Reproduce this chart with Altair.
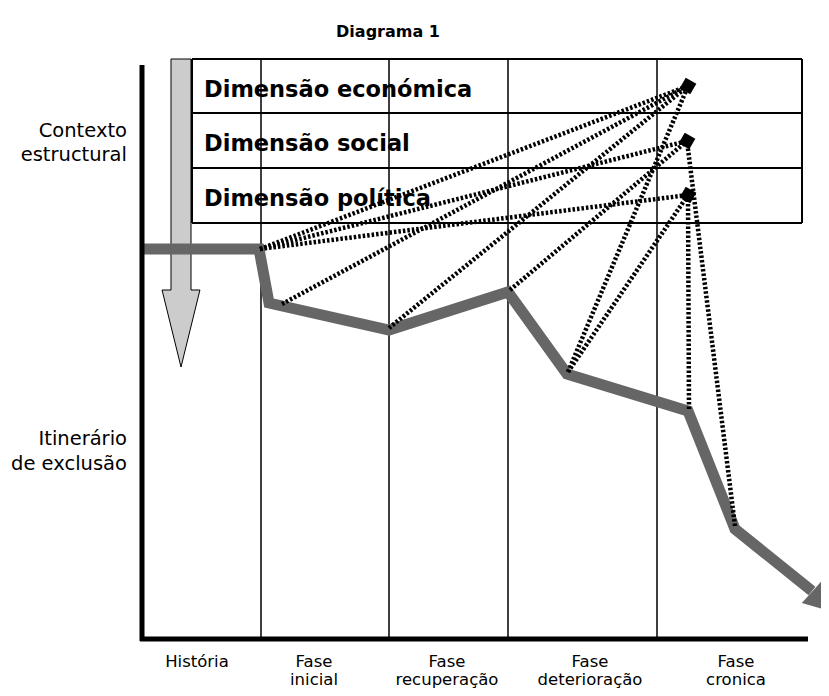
import altair as alt
import pandas as pd

# ---------------------------------------------------------------
# Diagram data (diagram coordinates:
# x grows to the right, y grows downward)
# ---------------------------------------------------------------
title_text = "Diagrama 1"

phase_line1 = ["História", "Fase", "Fase", "Fase", "Fase"]
phase_line2 = ["", "inicial", "recuperação", "deterioração", "cronica"]
phase_label_x = [197, 314, 447, 590, 736]
phase_label_y1 = [667, 667, 667, 667, 667]
phase_label_y2 = [685, 685, 685, 685, 685]

phase_bounds_x = [261, 389, 508, 657]
phase_bounds_top = 59
baseline_y = 639
axis_left_x = 142
axis_top_y = 65
axis_right_x = 808

dimension_names = ["Dimensão económica", "Dimensão social", "Dimensão política"]
dimension_text_x = [204, 204, 204]
dimension_text_y = [97, 151, 206]
table_lines_y = [59, 113, 168, 223]
table_left_x = 192
table_right_x = 802

side_labels = ["Contexto", "estructural", "Itinerário", "de exclusão"]
side_label_x = [127, 127, 127, 127]
side_label_y = [137, 161, 445, 470]

# structural-context arrow (centre of the shape)
context_arrow_x = [181]
context_arrow_y = [213]

# exclusion itinerary (thick grey path)
itinerary_x = [143, 259, 269, 389, 508, 567, 688, 735, 812]
itinerary_y = [249, 249, 303, 330, 292, 374, 411, 529, 591]
itinerary_head_x = [823]
itinerary_head_y = [602]

# points on the itinerary where the dimensions act
node_ids = ["A", "B", "C", "P", "D", "E", "F"]
node_x = [260, 282, 389, 510, 568, 689, 735]
node_y = [249, 304, 328, 290, 372, 409, 526]

# dimension markers
dim_ids = ["eco", "soc", "pol"]
dim_x = [688, 687, 688]
dim_y = [86, 141, 195]

# dotted links: itinerary point -> dimension marker
link_from = ["A", "A", "A", "B", "C", "P", "D", "D", "E", "F"]
link_to = ["eco", "soc", "pol", "eco", "eco", "soc", "eco", "pol", "pol", "soc"]

# ---------------------------------------------------------------
# Tables
# ---------------------------------------------------------------
nodes = dict(zip(node_ids, zip(node_x, node_y)))
dims = dict(zip(dim_ids, zip(dim_x, dim_y)))

link_rows = []
for k, (a, b) in enumerate(zip(link_from, link_to)):
    link_rows.append({"seg": k, "i": 0, "x": nodes[a][0], "y": nodes[a][1]})
    link_rows.append({"seg": k, "i": 1, "x": dims[b][0], "y": dims[b][1]})
links_df = pd.DataFrame(link_rows)

itin_df = pd.DataFrame({"i": range(len(itinerary_x)), "x": itinerary_x, "y": itinerary_y})
head_df = pd.DataFrame({"x": itinerary_head_x, "y": itinerary_head_y})
dims_df = pd.DataFrame({"x": dim_x, "y": dim_y})
arrow_df = pd.DataFrame({"x": context_arrow_x, "y": context_arrow_y})

phase_df = pd.DataFrame({"x": phase_bounds_x,
                         "y": [phase_bounds_top] * len(phase_bounds_x),
                         "y2": [baseline_y - 2] * len(phase_bounds_x)})
hlines_df = pd.DataFrame({"x": [table_left_x] * len(table_lines_y),
                          "x2": [table_right_x] * len(table_lines_y),
                          "y": table_lines_y})
vborder_df = pd.DataFrame({"x": [table_left_x, table_right_x],
                           "y": [table_lines_y[0]] * 2,
                           "y2": [table_lines_y[-1]] * 2})
axis_v_df = pd.DataFrame({"x": [axis_left_x], "y": [axis_top_y], "y2": [baseline_y + 2]})
axis_h_df = pd.DataFrame({"x": [axis_left_x - 2], "x2": [axis_right_x], "y": [baseline_y]})

dim_text_df = pd.DataFrame({"x": dimension_text_x, "y": dimension_text_y, "t": dimension_names})
side_df = pd.DataFrame({"x": side_label_x, "y": side_label_y, "t": side_labels})
phase_lab_df = pd.DataFrame({"x": phase_label_x + phase_label_x,
                             "y": phase_label_y1 + phase_label_y2,
                             "t": phase_line1 + phase_line2})
title_df = pd.DataFrame({"x": [388], "y": [37], "t": [title_text]})

# ---------------------------------------------------------------
# Chart
# ---------------------------------------------------------------
W, H = 813, 680
xs = alt.Scale(domain=[8, 8 + W], nice=False, zero=False)
ys = alt.Scale(domain=[8 + H, 8], nice=False, zero=False)
X = alt.X("x:Q", scale=xs, axis=None)
Y = alt.Y("y:Q", scale=ys, axis=None)

phase_rules = alt.Chart(phase_df).mark_rule(color="black", strokeWidth=1.5).encode(
    x=X, y=Y, y2="y2:Q")
table_h = alt.Chart(hlines_df).mark_rule(color="black", strokeWidth=2).encode(
    x=X, x2="x2:Q", y=Y)
table_v = alt.Chart(vborder_df).mark_rule(color="black", strokeWidth=2).encode(
    x=X, y=Y, y2="y2:Q")

ARROW_SHAPE = ("M-0.065,-1L0.065,-1L0.065,0.5L0.123,0.5L0,1"
               "L-0.123,0.5L-0.065,0.5Z")
context_arrow = alt.Chart(arrow_df).mark_point(
    shape=ARROW_SHAPE, size=308 * 308, filled=True, fill="#cccccc",
    stroke="black", strokeWidth=1, opacity=1, fillOpacity=1, strokeOpacity=1
).encode(x=X, y=Y)

dim_text = alt.Chart(dim_text_df).mark_text(
    align="left", baseline="alphabetic", font="DejaVu Sans", fontWeight="bold",
    fontSize=22.5, color="black").encode(x=X, y=Y, text="t:N")

itinerary = alt.Chart(itin_df).mark_line(
    color="#666666", strokeWidth=11, strokeJoin="miter", strokeCap="butt",
    strokeMiterLimit=10).encode(x=X, y=Y, order="i:Q")
itin_head = alt.Chart(head_df).mark_point(
    shape="M1,0L-1,-1L-1,1Z", size=900, angle=42, filled=True,
    color="#666666", opacity=1).encode(x=X, y=Y)

links = alt.Chart(links_df).mark_line(
    color="black", strokeWidth=4.5, strokeDash=[2.5, 2], strokeCap="butt").encode(
    x=X, y=Y, detail="seg:N", order="i:Q")

markers = alt.Chart(dims_df).mark_point(
    shape="square", size=150, angle=30, filled=True, color="black",
    opacity=1).encode(x=X, y=Y)

axis_v = alt.Chart(axis_v_df).mark_rule(color="black", strokeWidth=5).encode(
    x=X, y=Y, y2="y2:Q")
axis_h = alt.Chart(axis_h_df).mark_rule(color="black", strokeWidth=5).encode(
    x=X, x2="x2:Q", y=Y)

side_text = alt.Chart(side_df).mark_text(
    align="right", baseline="alphabetic", font="DejaVu Sans", fontSize=19.5,
    color="black").encode(x=X, y=Y, text="t:N")
phase_text = alt.Chart(phase_lab_df).mark_text(
    align="center", baseline="alphabetic", font="DejaVu Sans", fontSize=16.5,
    color="black").encode(x=X, y=Y, text="t:N")
title = alt.Chart(title_df).mark_text(
    align="center", baseline="alphabetic", font="DejaVu Sans", fontWeight="bold",
    fontSize=16, color="black").encode(x=X, y=Y, text="t:N")

chart = alt.layer(
    phase_rules, table_h, table_v, context_arrow, dim_text,
    itinerary, itin_head, links, markers, axis_v, axis_h,
    side_text, phase_text, title
).properties(
    width=W, height=H, padding=0,
    autosize=alt.AutoSizeParams(type="none")
).configure_view(strokeWidth=0)

chart.save("out.html", embed_options={"renderer": "svg", "actions": False})
